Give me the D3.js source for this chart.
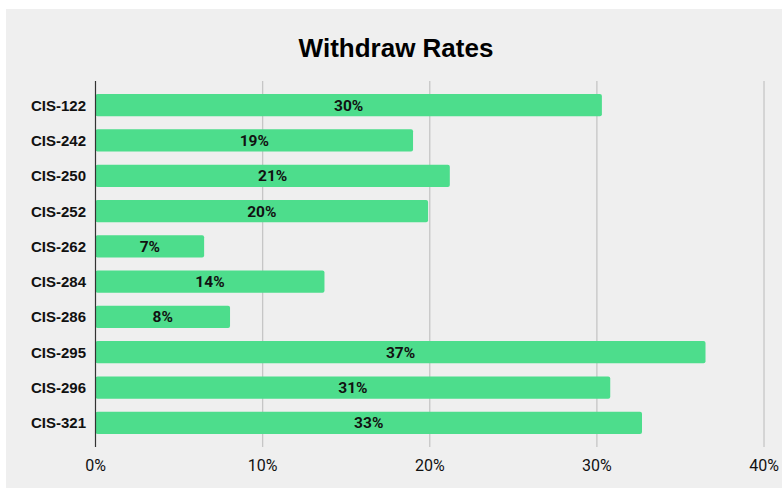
<!DOCTYPE html>
<html lang="en">
<head>
<meta charset="utf-8">
<title>Withdraw Rates</title>
<script src="https://d3js.org/d3.v7.min.js"></script>
<style>
  body { margin: 0; background: #fff; }
  #chart { position: absolute; left: 0; top: 0; }
</style>
</head>
<body>
<div id="chart"></div>
<script>
// course codes and withdraw rates (percent)
var courses = ["CIS-122", "CIS-242", "CIS-250", "CIS-252", "CIS-262", "CIS-284", "CIS-286", "CIS-295", "CIS-296", "CIS-321"]
var rates = [30.3, 19.0, 21.2, 19.9, 6.5, 13.7, 8.05, 36.5, 30.8, 32.7]
var ticks = [0, 10, 20, 30, 40]

var w = 782, h = 494
var svg = d3.select("#chart").append("svg").attr("width", w).attr("height", h)

// gray panel
svg.append("rect").attr("x", 6).attr("y", 9).attr("width", w - 6).attr("height", 479).attr("fill", "#efefef")

var xScale = d3.scaleLinear().domain([0, 40]).range([95.5, 764])
var yScale = d3.scaleBand().domain(courses).range([81, 447]).paddingInner(0.37).paddingOuter(0.37)

svg.append("text")
  .attr("x", 396).attr("y", 57)
  .attr("text-anchor", "middle")
  .attr("font-family", "Liberation Sans, Arial, sans-serif")
  .attr("font-weight", "bold").attr("font-size", 26)
  .attr("fill", "#000")
  .text("Withdraw Rates")

// vertical grid lines
svg.selectAll("line.grid")
  .data(ticks.slice(1))
  .enter().append("line")
  .attr("class", "grid")
  .attr("x1", function(d){ return xScale(d) }).attr("x2", function(d){ return xScale(d) })
  .attr("y1", 81).attr("y2", 447)
  .attr("stroke", "#c6c6c6").attr("stroke-width", 1.3)

// x tick labels
svg.selectAll("text.tick")
  .data(ticks)
  .enter().append("text")
  .attr("class", "tick")
  .attr("x", function(d){ return xScale(d) })
  .attr("y", 471)
  .attr("text-anchor", "middle")
  .attr("font-family", "Roboto, sans-serif")
  .attr("font-size", 16).attr("fill", "#111")
  .text(function(d){ return d + "%" })

// bars
var data = courses.map(function(c, i){ return { course: c, rate: rates[i] } })

svg.selectAll("rect.bar")
  .data(data)
  .enter().append("rect")
  .attr("class", "bar")
  .attr("x", xScale(0))
  .attr("y", function(d){ return yScale(d.course) })
  .attr("width", function(d){ return xScale(d.rate) - xScale(0) })
  .attr("height", yScale.bandwidth())
  .attr("rx", 2)
  .attr("fill", "#4ddd8c")

// zero axis line
svg.append("line")
  .attr("x1", xScale(0)).attr("x2", xScale(0))
  .attr("y1", 81).attr("y2", 447)
  .attr("stroke", "#333").attr("stroke-width", 1.2)

// bar value labels
svg.selectAll("text.val")
  .data(data)
  .enter().append("text")
  .attr("class", "val")
  .attr("x", function(d){ return (xScale(0) + xScale(d.rate)) / 2 })
  .attr("y", function(d){ return yScale(d.course) + yScale.bandwidth() / 2 + 5.5 })
  .attr("text-anchor", "middle")
  .attr("font-family", "Roboto, sans-serif")
  .attr("font-weight", "bold").attr("font-size", 15.5)
  .attr("fill", "#111")
  .text(function(d){ return Math.round(d.rate) + "%" })

// category labels
svg.selectAll("text.cat")
  .data(courses)
  .enter().append("text")
  .attr("class", "cat")
  .attr("x", 86)
  .attr("y", function(d){ return yScale(d) + yScale.bandwidth() / 2 + 5.5 })
  .attr("text-anchor", "end")
  .attr("font-family", "Liberation Sans, Arial, sans-serif")
  .attr("font-weight", "bold").attr("font-size", 15)
  .attr("fill", "#111")
  .text(function(d){ return d })
</script>
</body>
</html>
